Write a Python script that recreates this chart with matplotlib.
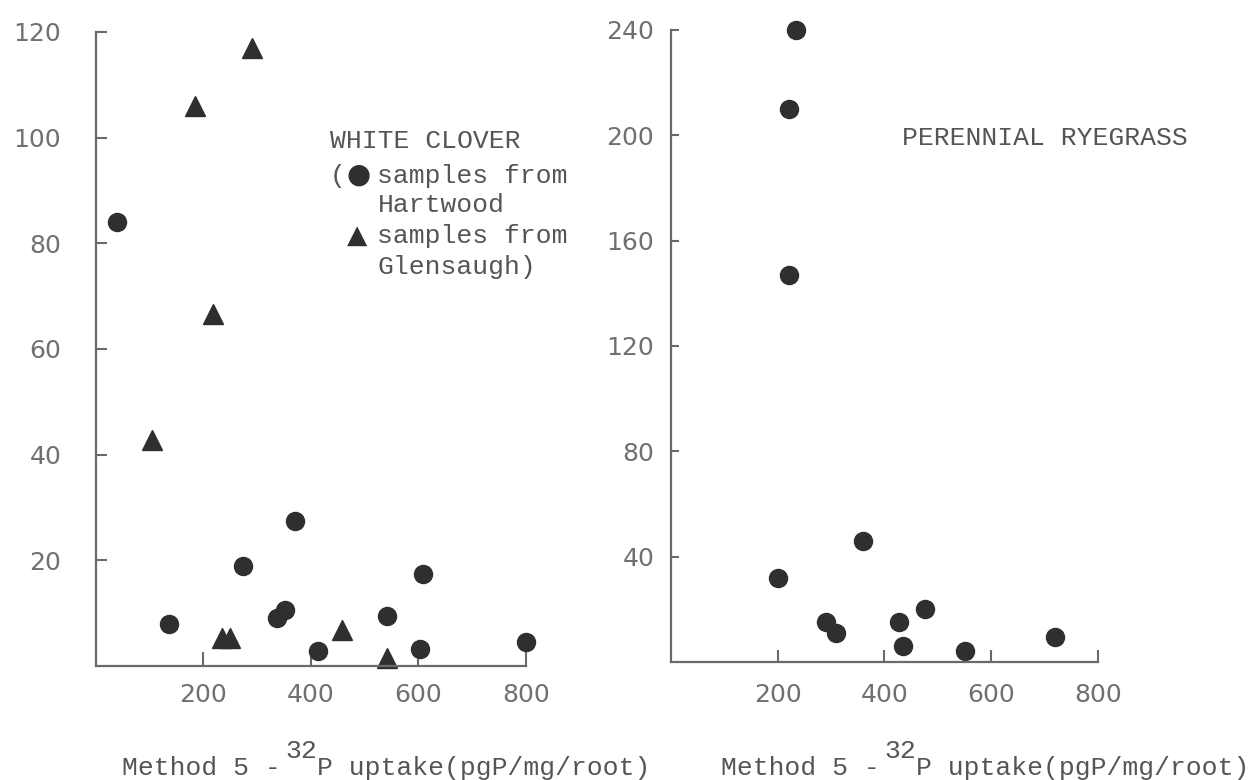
import numpy as np
import matplotlib.pyplot as plt
from matplotlib.transforms import offset_copy

# white clover - samples from Hartwood (circles)
hart_x = [39, 135, 273, 336, 351, 370, 413, 542, 602, 609, 800]
hart_y = [84, 8, 19, 9, 10.6, 27.5, 2.8, 9.5, 3.2, 17.4, 4.5]

# white clover - samples from Glensaugh (triangles)
glen_x = [105, 185, 217, 235, 249, 290, 458, 542]
glen_y = [42.8, 106, 66.7, 5.3, 5.3, 117, 6.8, 1.5]

# perennial ryegrass
rye_x = [200, 222, 222, 234, 290, 310, 359, 428, 434, 475, 551, 720]
rye_y = [32, 147, 210, 240, 15, 11, 46, 15, 6, 20, 4, 9.5]

x_ticks = [200, 400, 600, 800]
clover_yticks = [20, 40, 60, 80, 100, 120]
rye_yticks = [40, 80, 120, 160, 200, 240]

# x label typed in three pieces: lead, raised isotope number, rest
xlab_lead = "Method 5 -"
xlab_sup = "32"
xlab_rest = "P uptake(pgP/mg/root)"

ink = '#2f2f2f'
axis_col = '#6a6a6a'
label_col = '#707070'
text_col = '#555555'
mono = ['Liberation Mono', 'DejaVu Sans Mono']
fs = 19
cell = 0.6 * fs  # monospace advance in points

plt.rcParams['font.family'] = 'DejaVu Sans'

fig = plt.figure(figsize=(12.56, 7.8), dpi=100)
ax1 = fig.add_axes([0.0764, 0.1462, 0.3424, 0.8128])
ax2 = fig.add_axes([0.5342, 0.1513, 0.3400, 0.8103])


def typed(ax, x, y, s, col=0.0, rise=0.0, **kw):
    # place text on a typewriter grid: col in character cells, rise in points
    tr = offset_copy(ax.transAxes, fig=fig, x=col * cell, y=rise, units='points')
    kw.setdefault('family', mono)
    kw.setdefault('fontsize', fs)
    kw.setdefault('color', text_col)
    return ax.text(x, y, s, transform=tr, va='baseline', ha='left', **kw)


for ax, lx, ly in ((ax1, 0.0605, -0.172), (ax2, 0.117, -0.179)):
    ax.spines[['top', 'right']].set_visible(False)
    for s in ('left', 'bottom'):
        ax.spines[s].set_color(axis_col)
        ax.spines[s].set_linewidth(1.6)
    ax.set_xlim(0, 800)
    ax.set_xticks(x_ticks)
    ax.tick_params(direction='in', color=axis_col, width=1.5,
                   labelcolor=label_col, labelsize=18)
    typed(ax, lx, ly, xlab_lead)
    typed(ax, lx, ly, xlab_sup, col=10.3, rise=12)
    typed(ax, lx, ly, xlab_rest, col=12.3)

# left panel: white clover
ax1.plot(hart_x, hart_y, 'o', color=ink, markersize=13, mec=ink, clip_on=False)
ax1.plot(glen_x, glen_y, '^', color=ink, markersize=14, mec=ink, clip_on=False)
ax1.set_ylim(0, 120)
ax1.set_yticks(clover_yticks)
ax1.tick_params(axis='y', length=8, pad=25)
ax1.tick_params(axis='x', length=10, pad=12)

kx = 0.544
ky = [0.817, 0.762, 0.716, 0.667, 0.618]
typed(ax1, kx, ky[0], "WHITE CLOVER")
typed(ax1, kx, ky[1], "(")
typed(ax1, kx, ky[1], "\u25cf", col=1.05, family='DejaVu Sans',
      fontsize=20, color=ink)
typed(ax1, kx, ky[1], "samples from", col=3)
typed(ax1, kx, ky[2], "Hartwood", col=3)
typed(ax1, kx, ky[3], "\u25b2", col=1.05, family='DejaVu Sans',
      fontsize=19, color=ink)
typed(ax1, kx, ky[3], "samples from", col=3)
typed(ax1, kx, ky[4], "Glensaugh)", col=3)

# right panel: perennial ryegrass
ax2.plot(rye_x, rye_y, 'o', color=ink, markersize=13, mec=ink, clip_on=False)
ax2.set_ylim(0, 240)
ax2.set_yticks(rye_yticks)
ax2.tick_params(axis='y', length=6, pad=12)
ax2.tick_params(axis='x', length=9, pad=15)
typed(ax2, 0.541, 0.818, "PERENNIAL RYEGRASS")

fig.savefig('out.png', dpi=100)
